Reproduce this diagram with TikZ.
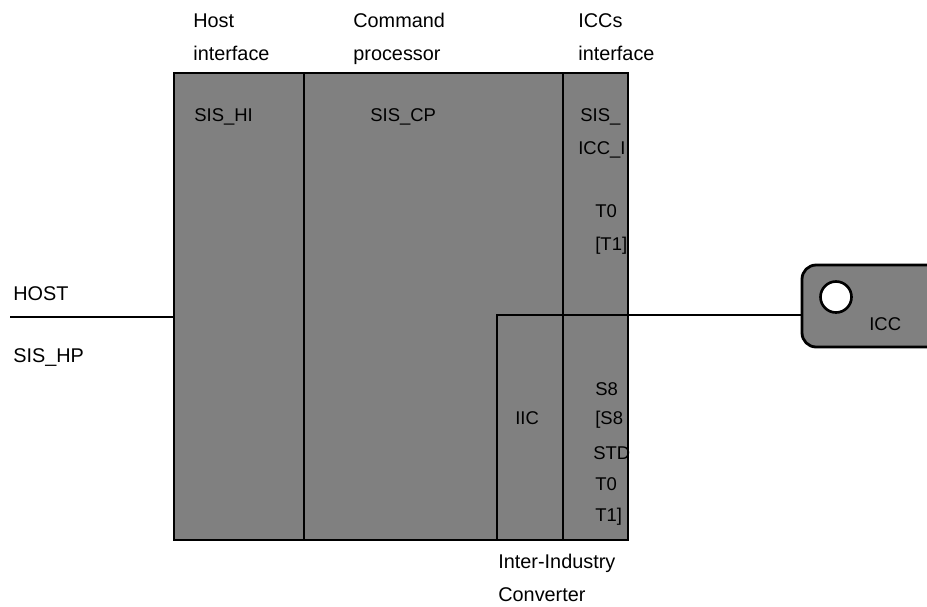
\documentclass[tikz,border=0pt]{standalone}
\usepackage{fontspec}
\setmainfont{Liberation Sans}
\usepackage{tikz}

\begin{document}
\begin{tikzpicture}[x=0.02cm, y=-0.02cm, font=\fontsize{11.3}{18.7}\selectfont,
  wall/.style={line width=1.6pt},
  link/.style={line width=1.3pt},
  dots/.style={fill=black!50},
  lbl/.style={anchor=base west, inner sep=0pt, align=left},
  inlbl/.style={anchor=base west, inner sep=0pt, font=\fontsize{10.5}{12}\selectfont}]
  \useasboundingbox (0,0) rectangle (927,606);
  \clip (0,0) rectangle (927,606);
  % main block with the three parts
  \node[dots, draw, wall, inner sep=0pt, minimum width=9.08cm, minimum height=9.34cm] (blk) at (401,306.5) {};
  \draw[wall] (304,73) -- (304,540);
  \draw[wall] (563,73) -- (563,540);
  \coordinate (iic) at (497,315);
  \draw[wall] (497,540) -- (iic) -- (iic -| blk.east);
  % card
  \node[dots, draw, wall, rounded corners=8pt, inner sep=0pt, minimum width=3.2cm, minimum height=1.64cm] (icc) at (882,306) {};
  \node[circle, draw, fill=white, line width=1.5pt, minimum size=0.62cm, inner sep=0pt] (slot) at (836,297) {};
  \node[inlbl] (icclbl) at (869,330) {ICC};
  % links
  \coordinate (hostend) at (10,317);
  \draw[link] (hostend) -- (hostend -| blk.west);
  \draw[link] (iic -| blk.east) -- (iic -| icc.west);
  % outside labels (base = last line)
  \node[lbl] (hostif) at (193,60) {Host\\interface};
  \node[lbl] (cmdproc) at (353,60) {Command\\processor};
  \node[lbl] (iccif) at (578,60) {ICCs\\interface};
  \node[lbl] (host) at (13,300) {HOST};
  \node[lbl] (sishp) at (13,362) {SIS\_HP};
  \node[lbl] (conv) at (498,601) {Inter-Industry\\Converter};
  % inside labels
  \node[inlbl] (sishi) at (194,121) {SIS\_HI};
  \node[inlbl] (siscp) at (370,121) {SIS\_CP};
  \node[inlbl] (sisicc) at (580,121) {SIS\_};
  \node[inlbl] (icci) at (578,154) {ICC\_I};
  \node[inlbl] (tzero) at (595,217) {T0};
  \node[inlbl] (tone) at (595,250) {[T1]};
  \node[inlbl] (iiclbl) at (515,424) {IIC};
  \node[inlbl] (seight) at (595,395) {S8};
  \node[inlbl] (seightb) at (595,424) {[S8};
  \node[inlbl] (std) at (593,459) {STD};
  \node[inlbl] (tzerob) at (595,490) {T0};
  \node[inlbl] (toneb) at (595,521) {T1]};
\end{tikzpicture}
\end{document}
